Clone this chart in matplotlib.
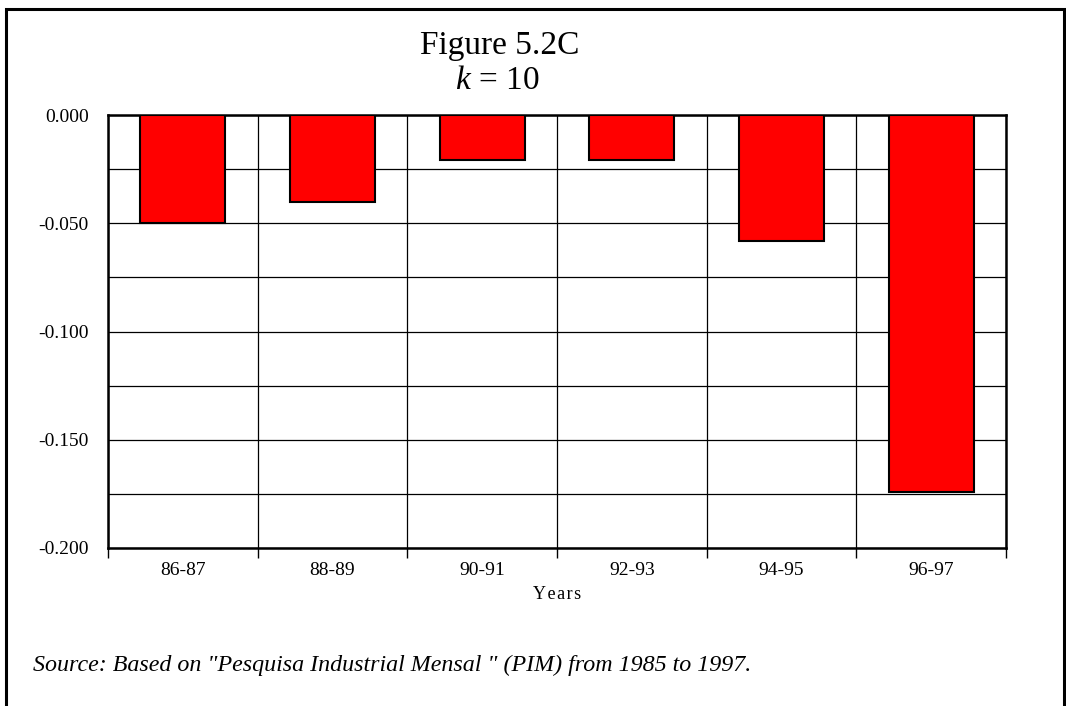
import matplotlib.pyplot as plt
from matplotlib.lines import Line2D
import numpy as np

years = ["86-87", "88-89", "90-91", "92-93", "94-95", "96-97"]
values = [-0.050, -0.040, -0.021, -0.021, -0.058, -0.174]

plt.rcParams['font.family'] = ['Liberation Serif', 'DejaVu Serif']
plt.rcParams['mathtext.fontset'] = 'custom'
plt.rcParams['mathtext.rm'] = 'Liberation Serif'
plt.rcParams['mathtext.it'] = 'Liberation Serif:italic'

fig = plt.figure(figsize=(10.66, 7.06), dpi=100)
W, H = 1066, 706

# outer frame (left, top, right)
fig.add_artist(Line2D([6 / W, 6 / W, 1064 / W, 1064 / W],
                      [0, 1 - 9 / H, 1 - 9 / H, 0],
                      color='black', lw=2.2, solid_joinstyle='miter',
                      transform=fig.transFigure))

ax = fig.add_axes([108 / W, 1 - 548 / H, 898 / W, 433 / H])
x = np.arange(len(years))
ax.bar(x, values, width=0.57, color='#ff0000', edgecolor='black', linewidth=1.5, zorder=3)

ax.set_xlim(-0.5, len(years) - 0.5)
ax.set_ylim(-0.2, 0)
ax.set_yticks([0, -0.05, -0.1, -0.15, -0.2])
ax.set_yticklabels(["0.000", "-0.050", "-0.100", "-0.150", "-0.200"])
ax.set_yticks(np.arange(-0.2, 0.001, 0.025), minor=True)
ax.tick_params(axis='y', which='both', length=0, pad=14, labelsize=14)

ax.set_xticks(x)
ax.set_xticklabels(years)
ax.set_xticks(np.arange(-0.5, len(years), 1), minor=True)
ax.tick_params(axis='x', which='major', length=0, pad=10, labelsize=14)
ax.tick_params(axis='x', which='minor', length=7, width=1, direction='out')

ax.yaxis.grid(True, which='both', color='black', linewidth=0.9, zorder=0)
ax.xaxis.grid(True, which='minor', color='black', linewidth=0.9, zorder=0)
ax.set_axisbelow(True)
for s in ax.spines.values():
    s.set_linewidth(1.8)

ax.set_xlabel("Y e a r s".replace(" ", "\u200a"), fontsize=13, labelpad=5)

fig.text(500 / W, 1 - 46 / H, "Figure 5.2C", ha='center', va='center', fontsize=24)
fig.text(497 / W, 1 - 81 / H, r"$k$ = 10", ha='center', va='center', fontsize=24)
fig.text(33 / W, 1 - 665 / H,
         'Source: Based on "Pesquisa Industrial Mensal " (PIM) from 1985 to 1997.',
         ha='left', va='center', fontsize=17.3, style='italic')

fig.savefig("out.png", dpi=100)
